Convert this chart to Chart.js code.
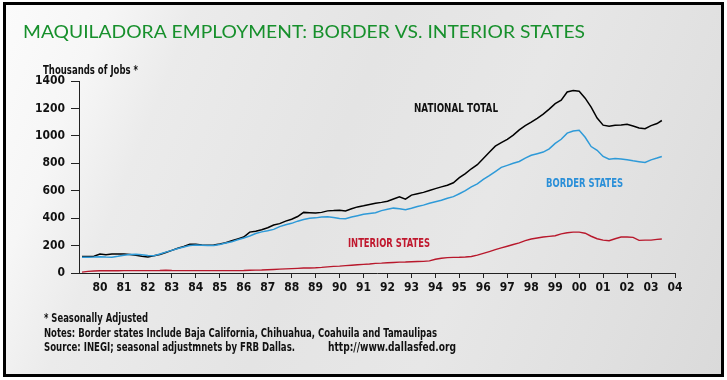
<!DOCTYPE html>
<html>
<head>
<meta charset="utf-8">
<script src="https://cdn.jsdelivr.net/npm/chart.js@4"></script>
<style>
  html, body { margin: 0; padding: 0; background: #ffffff; }
  #wrap { position: relative; width: 727px; height: 380px; overflow: hidden; }
  #frame {
    position: absolute; left: 3px; top: 2px; width: 721px; height: 375px;
    box-sizing: border-box; border: 3px solid #000;
    background: linear-gradient(112deg, #fbfbfb 0%, #f6f6f6 12%, #ebebeb 22%, #e4e4e4 45%, #e7e7e7 65%, #e0e0e0 85%, #dadada 100%);
  }
  canvas { position: absolute; left: 0; top: 0; }
</style>
</head>
<body>
<div id="wrap">
  <div id="frame"></div>
  <canvas id="c" width="727" height="380"></canvas>
</div>
<script>
// ---- Data (thousands of jobs, seasonally adjusted), quarterly ----
const quarters = [
  1979.25,1979.5,1979.75,1980.0,1980.25,1980.5,1980.75,1981.0,1981.25,1981.5,1981.75,
  1982.0,1982.25,1982.5,1982.75,1983.0,1983.25,1983.5,1983.75,1984.0,1984.25,1984.5,1984.75,
  1985.0,1985.25,1985.5,1985.75,1986.0,1986.25,1986.5,1986.75,1987.0,1987.25,1987.5,1987.75,
  1988.0,1988.25,1988.5,1988.75,1989.0,1989.25,1989.5,1989.75,1990.0,1990.25,1990.5,1990.75,
  1991.0,1991.25,1991.5,1991.75,1992.0,1992.25,1992.5,1992.75,1993.0,1993.25,1993.5,1993.75,
  1994.0,1994.25,1994.5,1994.75,1995.0,1995.25,1995.5,1995.75,1996.0,1996.25,1996.5,1996.75,
  1997.0,1997.25,1997.5,1997.75,1998.0,1998.25,1998.5,1998.75,1999.0,1999.25,1999.5,1999.75,
  2000.0,2000.25,2000.5,2000.75,2001.0,2001.25,2001.5,2001.75,2002.0,2002.25,2002.5,2002.75,
  2003.0,2003.25,2003.45
];
const nationalTotal = [
  120,121,123,138,133,138,139,139,135,130,122,
  116,126,135,150,165,180,193,210,210,205,203,205,
  212,220,235,248,262,298,305,316,330,350,360,378,
  392,412,442,440,438,442,453,455,458,452,468,482,
  490,500,508,515,523,540,555,538,568,578,588,601,
  615,628,640,658,695,725,760,790,835,880,925,950,
  975,1005,1044,1075,1100,1128,1158,1195,1235,1260,1320,1330,
  1325,1275,1210,1130,1078,1070,1078,1080,1085,1072,1058,1052,
  1075,1090,1112
];
const borderStates = [
  114,115,116,118,116,115,122,130,134,136,133,
  128,125,138,152,165,178,190,200,204,203,200,200,
  208,218,228,242,255,270,288,300,308,318,338,352,
  362,378,390,399,402,408,411,405,398,395,408,418,
  428,434,440,455,465,473,468,462,472,485,495,509,
  520,530,545,557,578,600,628,650,682,710,740,770,
  785,800,813,838,858,870,882,905,945,975,1020,1035,
  1040,990,922,895,850,830,835,832,825,818,812,806,
  825,838,850
];
const interiorStates = [
  6,12,15,16,16,16,16,17,17,17,17,
  17,17,18,20,18,17,17,17,17,17,17,17,
  17,17,17,17,18,20,21,22,24,26,28,30,
  32,34,36,37,38,41,45,48,50,54,57,60,
  63,66,70,72,75,77,79,80,82,84,85,88,
  100,108,112,114,115,117,120,130,143,156,170,183,
  195,208,220,236,248,255,262,267,272,285,293,298,
  298,290,268,250,240,235,250,262,262,260,238,240,
  240,245,248
];
const yTicks = [0,200,400,600,800,1000,1200,1400];
const xMin = 1979.125, xMax = 2004;

const titleText = "MAQUILADORA EMPLOYMENT: BORDER VS. INTERIOR STATES";
const yAxisTitle = "Thousands of Jobs *";
const seriesLabels = ["NATIONAL TOTAL", "BORDER STATES", "INTERIOR STATES"];
const footnotes = [
  "* Seasonally Adjusted",
  "Notes: Border states Include Baja California, Chihuahua, Coahuila and Tamaulipas",
  "Source: INEGI; seasonal adjustmnets by FRB Dallas."
];
const sourceUrl = "http://www.dallasfed.org";

const COND = "'Liberation Sans Narrow', 'DejaVu Sans Condensed', 'Roboto Condensed', Roboto, sans-serif";

function pts(vals) { return quarters.map((q, i) => ({ x: q, y: vals[i] })); }

// text drawn to an exact width (horizontal scale)
function fitText(ctx, text, x, y, width, font, color) {
  ctx.save();
  ctx.font = font;
  ctx.fillStyle = color;
  ctx.textAlign = 'left';
  ctx.textBaseline = 'alphabetic';
  const w = ctx.measureText(text).width;
  ctx.translate(x, y);
  ctx.scale(width / w, 1);
  ctx.fillText(text, 0, 0);
  ctx.restore();
}

const textPlugin = {
  id: 'texts',
  afterDraw(chart) {
    const ctx = chart.ctx;
    fitText(ctx, titleText, 23, 38, 562, "400 18px Lato", "#17902c");
    fitText(ctx, yAxisTitle, 43, 74, 95, "bold 12px " + COND, "#111");
    fitText(ctx, seriesLabels[0], 414, 111.5, 84, "bold 13px " + COND, "#111");
    fitText(ctx, seriesLabels[1], 546, 187, 77, "bold 13px " + COND, "#2a8fd8");
    fitText(ctx, seriesLabels[2], 348, 246.5, 82, "bold 13px " + COND, "#c0182e");
    fitText(ctx, footnotes[0], 44, 322, 104, "bold 12px " + COND, "#111");
    fitText(ctx, footnotes[1], 44, 337, 393, "bold 12px " + COND, "#111");
    fitText(ctx, footnotes[2], 44, 351, 251, "bold 12px " + COND, "#111");
    fitText(ctx, sourceUrl, 328, 351, 128, "bold 12px " + COND, "#111");
  }
};

new Chart(document.getElementById('c'), {
  type: 'line',
  data: {
    datasets: [
      { label: seriesLabels[2], data: pts(interiorStates), borderColor: '#b8182c', borderWidth: 1.4 },
      { label: seriesLabels[1], data: pts(borderStates), borderColor: '#2e9ad8', borderWidth: 1.5 },
      { label: seriesLabels[0], data: pts(nationalTotal), borderColor: '#000000', borderWidth: 1.5 }
    ]
  },
  options: {
    responsive: false,
    animation: false,
    devicePixelRatio: 1,
    elements: { point: { radius: 0 }, line: { tension: 0 } },
    layout: { padding: { left: 0, top: 81, right: 52, bottom: 0 } },
    plugins: { legend: { display: false }, tooltip: { enabled: false }, title: { display: false } },
    scales: {
      x: {
        type: 'linear',
        min: xMin, max: xMax,
        afterFit(s) { s.height = 107; },
        grid: { display: true, drawOnChartArea: false, drawTicks: true, tickLength: 5, color: '#222' },
        border: { display: true, color: '#222', width: 1 },
        ticks: {
          includeBounds: false,
          stepSize: 1,
          autoSkip: false,
          maxRotation: 0,
          padding: 3,
          color: '#111',
          font: { family: COND, size: 12, weight: 'bold' },
          callback: (v) => String(Math.round(v) % 100).padStart(2, '0')
        }
      },
      y: {
        min: 0, max: 1400,
        afterFit(s) { s.width = 79; },
        afterBuildTicks(s) { s.ticks = yTicks.map(v => ({ value: v })); },
        grid: { display: true, drawOnChartArea: false, drawTicks: true, tickLength: 8, color: '#222' },
        border: { display: true, color: '#222', width: 1 },
        ticks: {
          padding: 6,
          color: '#111',
          font: { family: COND, size: 12, weight: 'bold' },
          callback: (v) => String(v)
        }
      }
    }
  },
  plugins: [textPlugin]
});
</script>
</body>
</html>
